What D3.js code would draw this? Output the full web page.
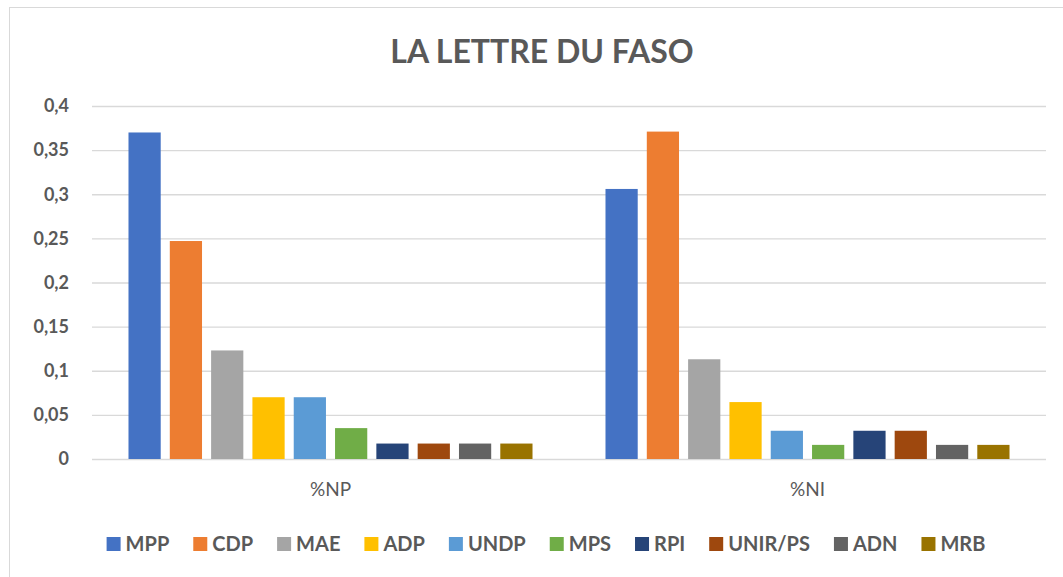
<!DOCTYPE html>
<html>
<head>
<meta charset="utf-8">
<script src="https://cdn.jsdelivr.net/npm/d3@7"></script>
<style>
  body { margin: 0; background: #fff; }
  svg { display: block; font-family: Lato, "Open Sans", sans-serif; }
</style>
</head>
<body>
<svg id="chart" width="1063" height="577"></svg>
<script>
const categories = ["%NP", "%NI"];
const parties = ["MPP", "CDP", "MAE", "ADP", "UNDP", "MPS", "RPI", "UNIR/PS", "ADN", "MRB"];
const colors = ["#4472c4", "#ed7d31", "#a5a5a5", "#ffc000", "#5b9bd5", "#70ad47", "#264478", "#9e480e", "#636363", "#997300"];
const valuesNP = [0.37, 0.247, 0.123, 0.07, 0.07, 0.035, 0.0175, 0.0175, 0.0175, 0.0175];
const valuesNI = [0.306, 0.371, 0.113, 0.0645, 0.032, 0.016, 0.032, 0.032, 0.016, 0.016];
const yTicks = [0, 0.05, 0.1, 0.15, 0.2, 0.25, 0.3, 0.35, 0.4];

const series = { "%NP": valuesNP, "%NI": valuesNI };
const textColor = "#595959";

const svg = d3.select("#chart");
const margin = { top: 106, right: 17, bottom: 118, left: 92 };
const width = 1063;
const height = 577;

// chart frame (right/bottom edges fall outside the picture)
svg.append("rect")
  .attr("x", 9.5).attr("y", 7.5)
  .attr("width", 1070).attr("height", 600)
  .attr("fill", "none")
  .attr("stroke", "#d9d9d9");

const y = d3.scaleLinear()
  .domain([0, 0.4])
  .range([height - margin.bottom, margin.top]);

const x0 = d3.scaleBand()
  .domain(categories)
  .range([margin.left, width - margin.right])
  .paddingInner(0.153)
  .paddingOuter(0.0765);

const x1 = d3.scaleBand()
  .domain(parties)
  .range([0, x0.bandwidth()])
  .paddingInner(0.22);

const colorScale = d3.scaleOrdinal().domain(parties).range(colors);

// gridlines
svg.append("g")
  .attr("class", "grid")
  .attr("transform", `translate(${margin.left},0)`)
  .call(d3.axisLeft(y).tickValues(yTicks).tickSize(-(width - margin.left - margin.right)).tickFormat(""))
  .call((g) => g.select(".domain").remove())
  .call((g) => g.selectAll("line").attr("stroke", "#d9d9d9").attr("stroke-width", 1.3));

// y axis labels
svg.append("g")
  .attr("class", "y-axis")
  .attr("transform", `translate(${margin.left - 23},0)`)
  .call(d3.axisLeft(y).tickValues(yTicks).tickSize(0).tickPadding(0)
    .tickFormat((d) => d3.format("~g")(d).replace(".", ",")))
  .call((g) => g.select(".domain").remove())
  .selectAll("text")
  .attr("fill", textColor)
  .attr("font-size", 18)
  .attr("font-weight", "bold")
  .attr("font-family", "Lato, sans-serif");

// bars
svg.append("g")
  .selectAll("g")
  .data(categories)
  .join("g")
  .attr("transform", (d) => `translate(${x0(d)},0)`)
  .selectAll("rect")
  .data((cat) => parties.map((p, i) => ({ party: p, value: series[cat][i] })))
  .join("rect")
  .attr("x", (d) => x1(d.party))
  .attr("width", x1.bandwidth())
  .attr("y", (d) => y(d.value))
  .attr("height", (d) => y(0) - y(d.value))
  .attr("fill", (d) => colorScale(d.party));

// x axis labels
svg.append("g")
  .attr("class", "x-axis")
  .attr("transform", `translate(0,${y(0)})`)
  .call(d3.axisBottom(x0).tickSize(0).tickPadding(24))
  .call((g) => g.select(".domain").remove())
  .selectAll("text")
  .attr("fill", textColor)
  .attr("font-size", 19)
  .attr("font-family", "Lato, sans-serif");

// title
svg.append("text")
  .attr("x", 542)
  .attr("y", 63)
  .attr("text-anchor", "middle")
  .attr("fill", textColor)
  .attr("font-size", 32)
  .attr("font-weight", "bold")
  .text("LA LETTRE DU FASO");

// legend
const legend = svg.append("g").attr("class", "legend");
const items = legend.selectAll("g")
  .data(parties)
  .join("g");
items.append("rect")
  .attr("width", 14).attr("height", 14)
  .attr("y", -14)
  .attr("fill", (d) => colorScale(d));
items.append("text")
  .attr("x", 19)
  .attr("fill", textColor)
  .attr("font-size", 20)
  .attr("font-weight", "bold")
  .text((d) => d);

let cursor = 0;
items.each(function () {
  const w = this.getBBox().width;
  d3.select(this).attr("transform", `translate(${cursor},0)`);
  cursor += w + 24;
});
const legendWidth = cursor - 24;
legend.attr("transform", `translate(${546 - legendWidth / 2},551)`);
</script>
</body>
</html>
